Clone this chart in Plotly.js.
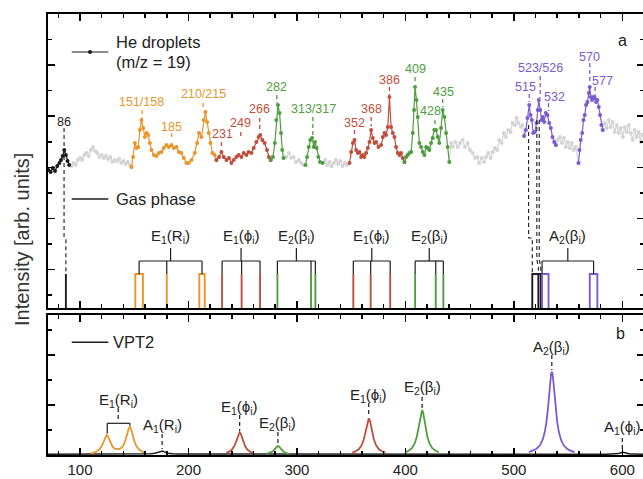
<!DOCTYPE html>
<html><head><meta charset="utf-8">
<script src="https://cdn.plot.ly/plotly-3.0.1.min.js"></script>
<style>html,body{margin:0;padding:0;overflow:hidden;background:#fff}#chart{width:646px;height:479px}</style>
</head><body><div id="chart"></div>
<script>
// ---------- DATA ----------
// He droplet spectrum (m/z = 19), wavenumber [cm^-1] vs intensity [arb. units]
const dropX = [71,73,75,77,79,81,82.5,84,85.5,87,88.5,90,
92,94,96,98,100,102,104,106,108,110,112,114,116,118,120,122,124,126,128,130,132,134,136,138,140,142,144,146,147.5,
149,150.6,152.1,153.7,155.2,156.7,158.3,159.8,161.4,162.9,164.4,165.9,168.1,170.5,172.7,175.1,177.3,179.7,181.9,184.3,186.5,188.9,191.1,193.5,195.7,198.1,200.3,202.8,205.8,208,209.8,212,214.1,215.6,217.2,218.7,220.2,222.1,224.2,225.8,
228.2,230.4,232.5,235,237.4,239.6,241.7,244.2,246.3,248.8,250.9,253.4,255.5,258,260.1,262.6,264.7,266.2,268.1,270.2,272.4,274.2,275.8,
277.9,279.7,281,282.5,284,285.3,286.5,287.7,
290.1,292.6,294.7,296.9,299.3,301.8,303.9,306.1,307.9,
309.4,310.9,312.4,314,315.5,316.7,318.2,319.8,321.3,323.7,
326,328,330,332,334,336,338,340,342,344,346,348.5,
350,351.6,353.1,354.6,356.2,357.7,359.2,360.8,362.3,363.8,365.4,366.9,368.4,370,371.5,373,375.2,377.6,379.2,380.7,382.2,383.8,385.3,386.8,388.4,389.9,391.4,393,394.5,396,397.6,399.1,
400.7,402.2,403.7,405.3,406.8,408,408.9,410.2,411.4,412.9,414.5,416,417.5,419.1,420.6,422.1,423.7,425.2,426.7,428.3,429.8,431.3,432.9,434.4,436,437.5,439,440.5,
442.1,443.6,446.1,448.2,450.4,452.8,455,457.4,459.5,462,464.2,466.3,468.1,470.3,472.4,474.3,476.4,478.6,480.4,482.6,484.7,486.5,488.7,490.8,492.7,494.8,497,498.8,501,502.5,504.3,506.5,508,509.5,
511.1,512.6,514.2,515.4,516.6,517.8,519.4,520.9,522.1,523,524.3,525.5,526.7,528,529.5,531,532.6,534.1,535.6,537.2,538.7,
540.5,542.4,544.2,546.1,547.9,549.7,551.6,553.4,555.3,557.1,559.6,
560.5,561.7,563,564.2,565.4,566.6,567.8,569.1,570,570.9,572.1,573.4,574.6,575.8,577,578.3,579.5,580.7,581.9,
583.8,585.6,587.5,589.3,591.1,593,594.8,596.7,598.5,600.4,602.2,604.1,605.9,607.7,609.6,611.4,613.2,615.1,616.9,618.2];
const dropY = [138,136,140,137,142,145,148,152,158,153,147,143,
142,145,143,148,150,148,153,155,152,158,161,157,155,151,153,150,152,149,151,146,148,147,149,145,147,144,146,143,141,
151,165,160,161,178,188,180,171,175,173,165,158,153,152,155,156,160,163,161,163,160,161,156,155,150,145,145,148,155,165,175,171,188,196,186,175,165,155,153,148,
151,156,151,148,150,145,148,151,153,151,155,153,156,155,160,166,171,173,168,165,158,151,148,
151,165,188,203,195,175,158,150,
151,155,150,151,146,148,145,143,143,
151,161,168,170,161,166,160,151,146,145,
148,143,146,142,145,148,144,147,142,145,143,145,
156,165,168,158,155,156,151,153,151,155,160,166,178,170,165,166,161,163,171,175,173,181,211,181,175,171,161,155,153,155,150,146,
151,153,155,156,175,198,221,208,191,165,161,156,153,161,160,158,165,170,178,178,171,165,180,198,191,175,161,146,
165,161,166,161,165,168,161,165,158,155,150,151,145,150,146,151,155,150,156,160,158,168,165,175,171,178,176,185,183,190,185,181,183,172,
178,190,203,193,188,175,176,185,198,208,198,188,191,186,195,193,185,180,171,166,163,
168,171,165,170,161,166,160,165,158,161,145,
158,168,175,188,193,203,206,215,221,211,208,211,210,206,208,201,193,183,178,
185,180,188,181,186,176,183,175,180,171,181,176,183,175,168,178,171,176,166,173];
// colour assignment of the droplet trace (segment boundaries in cm^-1)
const segBounds = [70,90,147.5,225.8,275.8,287.7,307.9,323.7,348.5,399.1,440.5,509.5,538.7,559.6,581.9,620];
const segColors = ['black','gray','orange','red','green','gray','green','gray','red','green','gray','purple','gray','purple','gray'];

// Gas phase stick spectrum (groups of neighbouring lines)
const gasHeight = 34;
const gasBlack  = [[87],[517,522.6,524.8]];
const gasOrange = [[151,158],[180],[210,215]];
const gasRed    = [[231],[249],[266],[352],[368],[386]];
const gasGreen  = [[282],[313],[317],[409],[428],[435]];
const gasPurple = [[526,532],[570,577]];

// VPT2 simulated spectrum
const vptBaseX = [70.5,160,165,169,171,173,174.2,175.2,176.2,177.2,179.2,181.2,185.2,190,585,590.6,594.6,596.6,598.6,600.6,602.6,604.6,606.6,610.6,620];
const vptBaseY = [0.8,1.0,1.25,1.8,2.45,3.4,3.9,4.1,3.9,3.4,2.45,1.8,1.25,1.0,0.8,0.93,1.06,1.4,2.3,2.7,2.3,1.4,1.06,0.93,0.8];
const vptOrangeX = [110,113,116,118,120,121.5,123,124,124.6,125.5,127,128.5,130,132,134,135.5,137,139,141,142.5,144,145,146,147,148.5,150,152,154,157,160];
const vptOrangeY = [1.7,2.4,3.9,5.7,8.9,12.7,17.4,19.7,20.1,19.3,15.3,11.2,8.4,6.4,5.7,5.8,6.3,8.1,11.8,16.4,22.7,26.5,28.1,26.4,20.2,14.2,8.9,5.9,3.5,2.4];
const vptRed1X = [235,238,240,242,243.5,245,246.2,247.2,248.2,249.4,251,252.5,254.5,256.5,259.5];
const vptRed1Y = [2.2,3.6,5.4,8.4,12.2,17.4,21.4,22.7,21.4,17.4,11.9,8.2,5.2,3.5,2.2];
const vptGreen1X = [272,275,277.5,279.5,281,282.5,284,285.5,287.5,290,293];
const vptGreen1Y = [1.1,2.0,3.5,5.8,7.9,9.0,7.9,5.8,3.5,2.0,1.1];
const vptRed2X = [351,354,357,359.5,361.5,363,364.3,365.3,366.3,367.3,368.3,369.6,371.1,373.1,375.6,378.6,381.6];
const vptRed2Y = [2.3,3.5,5.7,9.4,15.0,21.8,29.4,34.5,36.7,34.5,29.4,21.8,15.0,9.4,5.7,3.5,2.3];
const vptGreen2X = [400,403,406,408.5,410.5,412,413.4,414.4,415.4,416.4,417.4,418.8,420.3,422.3,424.8,427.8,430.8];
const vptGreen2Y = [2.8,4.2,6.9,11.3,18.0,26.1,36.0,42.3,45.0,42.3,36.0,26.1,18.0,11.3,6.9,4.2,2.8];
const vptPurpleX = [514,518,521,524,526.5,528.5,530,531.5,532.5,533.5,534.3,535,535.7,536.5,537.5,538.5,540,541.5,543.5,546,549,552,556];
const vptPurpleY = [2.9,4.4,6.3,9.7,15.1,22.9,32.5,47.1,59.9,73.1,80.8,83.3,80.8,73.1,59.9,47.1,32.5,22.9,15.1,9.7,6.3,4.4,2.9];

const xTickVals = [100,200,300,400,500,600];

// ---------- STYLE ----------
const C = {black:'#1c1c1c', gray:'#d4d4d4', orange:'#e8962a', red:'#bf4f3c', green:'#4f9e3e', purple:'#7a5bd0', text:'#222'};
const FONT = 'Liberation Sans, Arial, sans-serif';

const traces = [];
function dropSeg(i){
  const lo = segBounds[i]-1e-9, hi = segBounds[i+1]+1e-9, xs=[], ys=[];
  dropX.forEach((x,k)=>{ if(x>=lo && x<=hi){ xs.push(x); ys.push(dropY[k]); } });
  const col = C[segColors[i]];
  return {x:xs, y:ys, type:'scatter', mode:'lines+markers', xaxis:'x', yaxis:'y',
    line:{color:col, width:1.2}, marker:{color:col, size:4}, hoverinfo:'skip', showlegend:false};
}
segColors.forEach((c,i)=>{ if(c==='gray') traces.push(dropSeg(i)); });
segColors.forEach((c,i)=>{ if(c!=='gray') traces.push(dropSeg(i)); });

function gasTrace(groups, col){
  const xs=[], ys=[];
  groups.forEach(g=>{
    const a=g[0], b=g[g.length-1];
    if(g.length===1){ xs.push(a,a,null); ys.push(0,gasHeight,null); }
    else {
      xs.push(a,a,b,b,null); ys.push(0,gasHeight,gasHeight,0,null);
      for(let i=1;i<g.length-1;i++){ xs.push(g[i],g[i],null); ys.push(0,gasHeight,null); }
    }
  });
  return {x:xs, y:ys, type:'scatter', mode:'lines', xaxis:'x', yaxis:'y', line:{color:col, width:1.9}, hoverinfo:'skip', showlegend:false};
}
traces.push(gasTrace(gasBlack,C.black), gasTrace(gasOrange,C.orange), gasTrace(gasRed,C.red), gasTrace(gasGreen,C.green), gasTrace(gasPurple,C.purple));

function vpt(x,y,col,w){ return {x:x, y:y, type:'scatter', mode:'lines', xaxis:'x2', yaxis:'y2', line:{color:col, width:w}, hoverinfo:'skip', showlegend:false}; }
traces.push(vpt(vptBaseX,vptBaseY,C.black,1.5), vpt(vptOrangeX,vptOrangeY,C.orange,1.8), vpt(vptRed1X,vptRed1Y,C.red,1.8),
  vpt(vptGreen1X,vptGreen1Y,C.green,1.8), vpt(vptRed2X,vptRed2Y,C.red,1.8), vpt(vptGreen2X,vptGreen2Y,C.green,1.8), vpt(vptPurpleX,vptPurpleY,C.purple,1.8));

// ---------- ANNOTATIONS & SHAPES ----------
const shapes = [], ann = [];
const DASH = '4px,3px';
function line(x0,y0,x1,y1,col,w,dash,ax){
  ax = ax||1;
  shapes.push({type:'line', xref: ax===1?'x':'x2', yref: ax===1?'y':'y2', x0,y0,x1,y1, line:{color:col, width:w, dash:dash||'solid'}, layer:'above'});
}
function path(pts,col,w,dash){
  shapes.push({type:'path', xref:'x', yref:'y', path:'M'+pts.map(p=>p[0]+','+p[1]).join(' L'), line:{color:col,width:w,dash:dash}, layer:'above'});
}
function text(t,x,y,col,size,ax,anchor){
  ann.push({text:t, x, y, xref: ax===2?'x2':'x', yref: ax===2?'y2':'y', showarrow:false, xanchor:anchor||'center', yanchor:'middle',
    font:{family:FONT, size:size, color:col}});
}

// droplet peak labels: [text, xText, yText, xDash, dashTop, dashBottom, colour]
const peakLabels = [
 ['151/158',156.8,206,157.3,198,190,'orange'], ['185',184.7,181,184.5,175,168,'orange'], ['210/215',213.5,214,213.5,205,199,'orange'],
 ['231',231.3,174,230.4,166,159,'red'], ['249',248.2,185,248.2,176,169,'red'], ['266',265.7,199,265.7,190,176,'red'],
 ['282',281,221,281.5,213,205,'green'], ['313/317',315.4,199,314.7,191,173,'green'],
 ['352',353.1,185,353.1,178,171,'red'], ['368',368.4,199,368.4,191,182,'red'], ['386',385.3,228,385.3,221,213,'red'],
 ['409',408.9,239,408.9,231,224,'green'], ['428',422.7,197,427.3,188,181,'green'], ['435',435,216,434.4,209,201,'green'],
 ['515',511.1,221,514.2,214,206,'purple'], ['523/526',524.9,240,524.3,232,210,'purple'], ['532',537.1,211,532,205,197,'purple'],
 ['570',570,251,570,245,224,'purple'], ['577',581.6,227,574.9,221,211,'purple']
];
peakLabels.forEach(p=>{ text(p[0],p[1],p[2],C[p[6]],12.5); line(p[3],p[4],p[3],p[5],C[p[6]],1.3,DASH); });
text('86',85.3,186,C.text,12.5);

// droplet -> gas phase connectors
path([[85.3,180],[85.3,71],[87,69],[87,gasHeight]],C.black,1.1,DASH);
path([[513.6,183],[513.6,70],[517,70],[517,gasHeight]],C.black,1.1,DASH);
path([[521.2,188],[521.2,48],[522.6,42],[522.6,gasHeight]],C.black,1.1,DASH);
path([[523.4,188],[523.4,48],[524.8,42],[524.8,gasHeight]],C.black,1.1,DASH);

// gas phase brackets
const center = g => (g[0]+g[g.length-1])/2;
const brackets = [
 ['E<sub>1</sub>(R<sub>i</sub>)', gasOrange.map(center)],
 ['E<sub>1</sub>(ϕ<sub>i</sub>)', gasRed.slice(0,3).map(center)],
 ['E<sub>2</sub>(β<sub>i</sub>)', gasGreen.slice(0,3).map(center)],
 ['E<sub>1</sub>(ϕ<sub>i</sub>)', gasRed.slice(3).map(center)],
 ['E<sub>2</sub>(β<sub>i</sub>)', gasGreen.slice(3).map(center)],
 ['A<sub>2</sub>(β<sub>i</sub>)', [gasPurple[0][0], center(gasPurple[1])]]
];
const bLow = 47, bUp = 60, bText = 72;
brackets.forEach(b=>{
  const at=b[1], l=at[0], r=at[at.length-1], m=(l+r)/2;
  line(l,bLow,r,bLow,C.black,1.2);
  line(m,bLow,m,bUp,C.black,1.2);
  at.forEach(x=>line(x,bLow,x,gasHeight,C.black,1.2));
  text(b[0],m,bText,C.text,15);
});

// legends & panel letters
line(92.4,256,126.1,256,C.black,1.2);
shapes.push({type:'circle', xref:'x', yref:'y', x0:107.4, x1:111.1, y0:254, y1:258, fillcolor:C.black, line:{width:0}, layer:'above'});
text('He droplets',131.3,266,C.text,16.5,1,'left');
text('(m/z = 19)',131.3,246,C.text,16.5,1,'left');
line(92.4,109,126.1,109,C.black,1.4);
text('Gas phase',131.3,109,C.text,16.5,1,'left');
text('a',600,268,C.text,16);

line(92.4,112.7,126.1,112.7,C.black,1.4,'solid',2);
text('VPT2',128.2,112.7,C.text,16.5,2,'left');
text('b',598.5,122,C.text,16,2);

// VPT2 labels: [text, x, yText, dashTop, dashBottom]
const vptLabels = [
 ['E<sub>1</sub>(R<sub>i</sub>)',135.2,55,47,33],
 ['A<sub>1</sub>(R<sub>i</sub>)',175.7,30,21,6],
 ['E<sub>1</sub>(ϕ<sub>i</sub>)',247.2,48,40,24],
 ['E<sub>2</sub>(β<sub>i</sub>)',282.5,32,23,10],
 ['E<sub>1</sub>(ϕ<sub>i</sub>)',366.2,60,52,38],
 ['E<sub>2</sub>(β<sub>i</sub>)',415.4,68,58,46],
 ['A<sub>2</sub>(β<sub>i</sub>)',535,108,100,85],
 ['A<sub>1</sub>(ϕ<sub>i</sub>)',600,28,17,3]
];
vptLabels.forEach(v=>{ text(v[0],v[1],v[2],C.text,15,2); line(v[1],v[3],v[1],v[4],C.black,1.2,DASH,2); });
// E1(Ri) bracket over the two VPT2 peaks
line(125.1,31.7,146,31.7,C.black,1.2,'solid',2);
line(125.1,31.7,125.1,21.5,C.black,1.2,'solid',2);
line(146,31.7,146,29.3,C.black,1.2,'solid',2);

// y axis title
ann.push({text:'Intensity [arb. units]', xref:'paper', yref:'paper', x:-0.0436, y:0.4875, xanchor:'center', yanchor:'middle',
  textangle:-90, showarrow:false, font:{family:FONT, size:20, color:'#333'}});

// ---------- AXES ----------
const xBase = {range:[70.5,620], showgrid:false, zeroline:false, showline:true, linecolor:'#000', linewidth:2, mirror:'ticks',
  ticks:'inside', ticklen:7, tickwidth:1.5, tickcolor:'#000', tickmode:'array', tickvals:xTickVals,
  minor:{ticks:'inside', ticklen:4, tickwidth:1.5, tickcolor:'#000', dtick:20, tick0:0, showgrid:false}};
const yBase = {showgrid:false, zeroline:false, showline:true, linecolor:'#000', linewidth:2, mirror:'ticks',
  ticks:'inside', ticklen:7, tickwidth:1.5, tickcolor:'#000', showticklabels:false};

const layout = {
  width:646, height:479, margin:{l:48, r:2, t:14, b:24}, paper_bgcolor:'#fff', plot_bgcolor:'#fff', showlegend:false,
  font:{family:FONT, color:'#222'},
  xaxis: Object.assign({}, xBase, {anchor:'y', showticklabels:false}),
  xaxis2: Object.assign({}, xBase, {anchor:'y2', showticklabels:true, tickfont:{family:FONT, size:15, color:'#222'}}),
  yaxis: Object.assign({}, yBase, {domain:[0.33333,1], range:[0,294], tick0:38.35, dtick:51.14,
    minor:{ticks:'inside', ticklen:4, tickwidth:1.5, tickcolor:'#000', tick0:12.78, dtick:25.57, showgrid:false}}),
  yaxis2: Object.assign({}, yBase, {domain:[0,0.31746], range:[0,140], tick0:0, dtick:50,
    minor:{ticks:'inside', ticklen:4, tickwidth:1.5, tickcolor:'#000', tick0:25, dtick:50, showgrid:false}}),
  shapes: shapes, annotations: ann
};
Plotly.newPlot('chart', traces, layout, {displayModeBar:false, staticPlot:true});
</script></body></html>
